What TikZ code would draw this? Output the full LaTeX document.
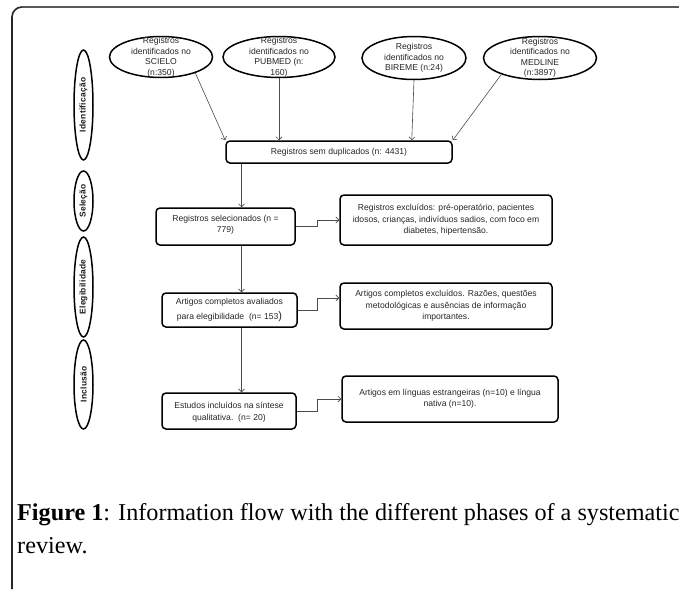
\documentclass[tikz,border=0pt]{standalone}
\usepackage{fontspec}
\setmainfont{Liberation Serif}
\newfontfamily\arialf{Liberation Sans}
\newfontfamily\arialsp[LetterSpace=3]{Liberation Sans}
\usetikzlibrary{shapes.geometric,arrows.meta,calc}
\begin{document}
\begin{tikzpicture}[x=1pt,y=-1pt,
  src/.style={ellipse, draw, line width=1.5pt, inner sep=0pt},
  ftext/.style={font=\arialf\fontsize{8.6}{10.5}\selectfont, text=black!85, align=center, inner sep=0pt},
  box/.style={draw, line width=1.5pt, rounded corners=4pt, inner sep=0pt},
  phase/.style={ellipse, draw, line width=1.5pt, inner sep=0pt, rotate=90, text=black!90,
    font=\arialsp\bfseries\fontsize{8.4}{9}\selectfont},
  arr/.style={draw=black!70, line width=0.6pt, -{Straight Barb[length=3pt,width=6pt]}},
]
\useasboundingbox (0,0) rectangle (679,589);
% frame
\coordinate (fr1) at (680,7);
\coordinate (fr2) at (22,7);
\coordinate (fr3) at (12,589);
\draw[black!65, line width=2pt] (fr1) -- (fr2);
\draw[black!85, line width=1.6pt, rounded corners=10pt] (fr2) -- (12,7) -- (fr3);

% phase ellipses
\node[phase, minimum width=110pt, minimum height=19pt] (ph1) at (83.5,105) {Identificação};
\node[phase, minimum width=60pt, minimum height=19pt] (ph2) at (83.5,201) {Seleção};
\node[phase, minimum width=100pt, minimum height=19pt] (ph3) at (83.5,287) {Elegibilidade};
\node[phase, minimum width=89pt, minimum height=19pt] (ph4) at (83.5,384.5) {Inclusão};

% source ellipses
\node[src, minimum width=103pt, minimum height=41pt] (e1) at (161,57) {};
\node[ftext] (t1) at (161,57.5) {Registros\\identificados no\\SCIELO\\(n:350)};
\node[src, minimum width=112pt, minimum height=41pt] (e2) at (279,57) {};
\node[ftext] (t2) at (279,57.5) {Registros\\identificados no\\PUBMED (n:\\160)};
\node[src, minimum width=104pt, minimum height=43pt] (e3) at (414,58) {};
\node[ftext] (t3) at (414,58) {Registros\\identificados no\\BIREME (n:24)};
\node[src, minimum width=113pt, minimum height=43pt] (e4) at (540,58) {};
\node[ftext] (t4) at (540,58) {Registros\\identificados no\\MEDLINE\\(n:3897)};

% main boxes
\node[box, ftext, minimum width=226pt, minimum height=22pt] (dup) at (339,152) {Registros sem duplicados (n: 4431)};
\node[box, minimum width=139pt, minimum height=37pt] (sel) at (225.5,226.5) {};
\node[ftext] (selt) at (225.5,225) {Registros selecionados (n =\\779)};
\node[box, minimum width=135pt, minimum height=34pt] (eleg) at (229.5,310) {};
\node[ftext, font=\arialf\fontsize{8.6}{15}\selectfont] (elegt) at (229.5,310) {Artigos completos avaliados\\para elegibilidade\ \ (n= 153{\fontsize{11}{11}\selectfont)}};
\node[box, minimum width=134pt, minimum height=36pt] (est) at (229,411) {};
\node[ftext, font=\arialf\fontsize{8.6}{12}\selectfont] (estt) at (229,412) {Estudos incluídos na síntese\\qualitativa.\ \ (n= 20)};

% exclusion boxes
\node[box, minimum width=212pt, minimum height=50pt] (ex1) at (446,220) {};
\node[ftext, font=\arialf\fontsize{8.6}{11.5}\selectfont] (ex1t) at (446,220) {Registros excluídos: pré-operatório, pacientes\\idosos, crianças, indivíduos\ sadios, com\ foco em\\diabetes, hipertensão.};
\node[box, minimum width=212pt, minimum height=46pt] (ex2) at (446,306) {};
\node[ftext, font=\arialf\fontsize{8.6}{11.5}\selectfont] (ex2t) at (446,306) {Artigos completos excluídos. Razões, questões\\metodológicas e ausências de informação\\importantes.};
\node[box, minimum width=216pt, minimum height=46pt] (ex3) at (450,399) {};
\node[ftext, font=\arialf\fontsize{8.6}{11.5}\selectfont] (ex3t) at (450,398.5) {Artigos em línguas estrangeiras (n=10) e língua\\nativa (n=10).};

% helper coordinates
\coordinate (trunk) at (241.5,0);
\coordinate (elbow) at (317.5,0);

% connectors
\draw[arr] (e1.-25) -- (dup.north west);
\draw[arr] (e2.south) -- (e2.south |- dup.north);
\draw[arr] (e3.south) -- ($(dup.north east)+(-41,0)$);
\draw[arr] (e4.203) -- (dup.north east);
\draw[arr] (dup.south -| trunk) -- (sel.north -| trunk);
\draw[arr] (sel.south -| trunk) -- (eleg.north -| trunk);
\draw[arr] (eleg.south -| trunk) -- (est.north -| trunk);
\draw[arr] (sel.east) -- (sel.east -| elbow) -- (ex1.west -| elbow) -- (ex1.west);
\draw[arr] (eleg.east) -- (eleg.east -| elbow) -- ($(ex2.west -| elbow)+(0,-8)$) -- ($(ex2.west)+(0,-8)$);
\draw[arr] (est.east) -- (est.east -| elbow) -- (ex3.west -| elbow) -- (ex3.west);

% caption
\node[anchor=base west, inner sep=0pt, align=left, font=\fontsize{24.2}{33}\selectfont] (cap) at (17,553)
  {\textbf{Figure 1}: Information flow with the different phases of a systematic\\review.};
\end{tikzpicture}
\end{document}
